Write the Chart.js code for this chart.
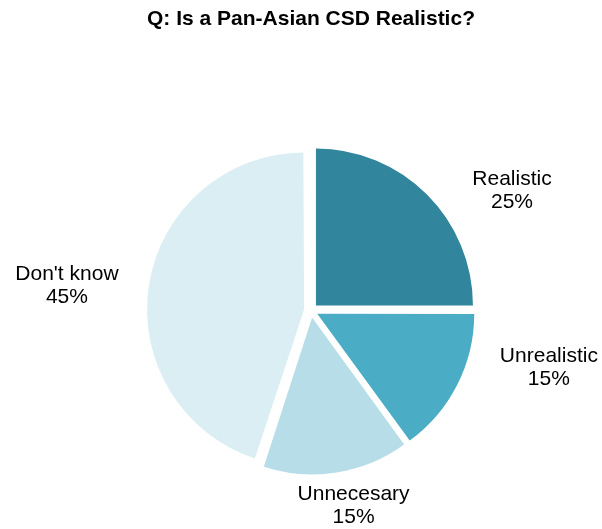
<!DOCTYPE html>
<html>
<head>
<meta charset="utf-8">
<title>Pan-Asian CSD</title>
<script src="https://cdn.jsdelivr.net/npm/chart.js@4.4.1/dist/chart.umd.min.js"></script>
<style>
  html, body { margin: 0; padding: 0; background: #fff; }
  #wrap { width: 602px; height: 529px; position: relative; }
</style>
</head>
<body>
<div id="wrap"><canvas id="pieChart"></canvas></div>
<script>
const labels = ["Realistic", "Unrealistic", "Unnecesary", "Don't know"];
const shares = [25, 15, 15, 45];
const colors = ["#31859c", "#4bacc6", "#b7dee8", "#daeef3"];

// label nudges (px) from the outer mid-point of each slice
const labelNudge = [[90, -9], [98, -14], [18, 40], [-89, 0]];

const FONT = "'Liberation Sans', Arial, sans-serif";

/* keep exploded slices at the same radius
   (chart.js grows wide slices a little when offset is set) */
const evenExplode = {
  id: "evenExplode",
  beforeDatasetsDraw(chart) {
    chart.getDatasetMeta(0).data.forEach(arc => {
      const grow = (arc.options.offset || 0) / 4 * (1 - Math.sin(Math.min(Math.PI, arc.circumference)));
      arc._fullR = arc.outerRadius;
      arc.outerRadius = arc._fullR - grow;
    });
  },
  afterDatasetsDraw(chart) {
    chart.getDatasetMeta(0).data.forEach(arc => {
      if (arc._fullR !== undefined) arc.outerRadius = arc._fullR;
    });
  }
};

/* outside labels: name + percent, two lines */
const outsideLabels = {
  id: "outsideLabels",
  afterDraw(chart) {
    const ctx = chart.ctx;
    const meta = chart.getDatasetMeta(0);
    ctx.save();
    ctx.font = "21px " + FONT;
    ctx.fillStyle = "#000";
    ctx.textAlign = "center";
    ctx.textBaseline = "middle";
    meta.data.forEach((arc, i) => {
      const mid = (arc.startAngle + arc.endAngle) / 2;
      const x = arc.x + Math.cos(mid) * arc.outerRadius + labelNudge[i][0];
      const y = arc.y + Math.sin(mid) * arc.outerRadius + labelNudge[i][1];
      ctx.fillText(labels[i], x, y - 11.75);
      ctx.fillText(shares[i] + "%", x, y + 11.75);
    });
    ctx.restore();
  }
};

new Chart(document.getElementById("pieChart"), {
  type: "pie",
  data: {
    labels: labels,
    datasets: [{
      data: shares,
      backgroundColor: colors,
      borderWidth: 0,
      offset: 28
    }]
  },
  options: {
    responsive: true,
    maintainAspectRatio: false,
    animation: false,
    layout: {
      padding: { left: 140, right: 120, top: 0, bottom: 47.5 }
    },
    plugins: {
      legend: { display: false },
      tooltip: { enabled: false },
      title: {
        display: true,
        text: "Q: Is a Pan-Asian CSD Realistic?",
        color: "#000",
        font: { family: FONT, size: 21, weight: "bold" },
        padding: { top: 6.5, bottom: 107.8 }
      }
    }
  },
  plugins: [evenExplode, outsideLabels]
});
</script>
</body>
</html>
